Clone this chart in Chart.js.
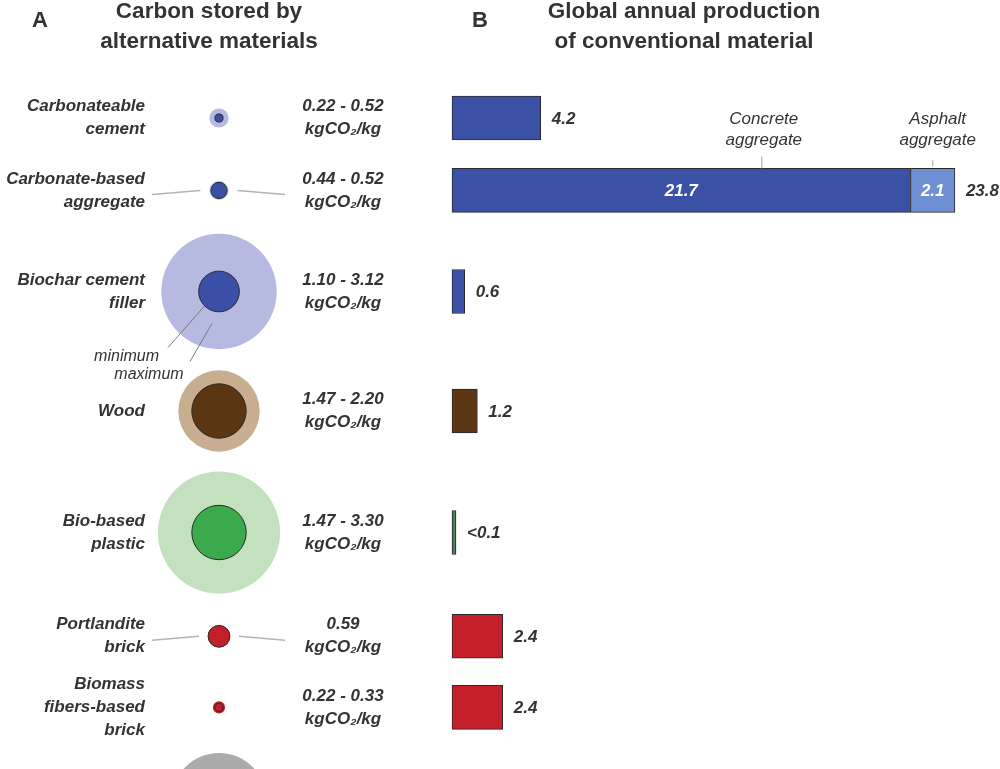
<!DOCTYPE html>
<html>
<head>
<meta charset="utf-8">
<script src="https://cdn.jsdelivr.net/npm/chart.js@4.4.1/dist/chart.umd.min.js"></script>
<style>
  html, body { margin: 0; padding: 0; background: #fff; }
  #wrap { position: relative; width: 1000px; height: 769px; overflow: hidden; }
  #chartA { position: absolute; left: 0; top: 0; }
  #chartB { position: absolute; left: 440px; top: 0; }
</style>
</head>
<body>
<div id="wrap">
  <canvas id="chartA" width="438" height="769"></canvas>
  <canvas id="chartB" width="560" height="769"></canvas>
</div>
<script>
// materials (panel A rows); the last one is cut off at the bottom of the figure
const materials = [
    ['Carbonateable', 'cement'],
    ['Carbonate-based', 'aggregate'],
    ['Biochar cement', 'filler'],
    ['Wood'],
    ['Bio-based', 'plastic'],
    ['Portlandite', 'brick'],
    ['Biomass', 'fibers-based', 'brick'],
    []
];
// carbon stored, kgCO2/kg
const storedMin = [0.22, 0.44, 1.10, 1.47, 1.47, 0.59, 0.22, 1.2];
const storedMax = [0.52, 0.52, 3.12, 2.20, 3.30, 0.59, 0.33, 2.55];
const storedLabels = ['0.22 - 0.52', '0.44 - 0.52', '1.10 - 3.12', '1.47 - 2.20', '1.47 - 3.30', '0.59', '0.22 - 0.33', ''];

// global annual production of the conventional material (panel B)
const production = [4.2, 21.7, 0.6, 1.2, 0.1, 2.4, 2.4];
const productionExtra = [0, 2.1, 0, 0, 0, 0, 0];
const productionLabels = ['4.2', '23.8', '0.6', '1.2', '<0.1', '2.4', '2.4'];
const segmentNames = [['Concrete', 'aggregate'], ['Asphalt', 'aggregate']];

// colours
const innerColors = ['#3a4fa6', '#3a4fa6', '#3a4fa6', '#5a3613', '#3aaa4c', '#c2202b', '#c2202b', '#7a7a7a'];
const outerColors = ['#b6b9e0', '#c9cbe9', '#b6b9e0', '#c9ad90', '#c4e1bf', '#c2202b', '#c2202b', '#ababab'];
const barColors = ['#3a51a6', '#3a51a6', '#3a51a6', '#5b3714', '#4d7a5a', '#c41f2b', '#c41f2b'];
const extraColor = '#6e8fd2';
const leaderRows = [false, true, false, false, false, true, false, false];

const H = 769;
const TEXT = '#333333';
const FONT = "'Liberation Sans', Arial, sans-serif";
const R_PER_UNIT = 18.5;      // bubble radius, px per kgCO2/kg
const PX_PER_GT = 21.13;      // bar length, px per unit
const ROW_TOP = 118, ROW_GAP = 61, ROW_GROW = 11;

// rows get more room when the circles are bigger
const rowPos = [0];
for (let i = 1; i < storedMax.length; i++) {
    rowPos.push(rowPos[i - 1] + ROW_GAP + ROW_GROW * (storedMax[i - 1] + storedMax[i]));
}

function lines(ctx, arr, x, y, lh) {
    const y0 = y - (arr.length - 1) * lh / 2;
    arr.forEach((t, k) => ctx.fillText(t, x, y0 + k * lh));
}

function title(ctx, letter, lx, titleLines, tx) {
    ctx.fillStyle = TEXT;
    ctx.textBaseline = 'middle';
    ctx.textAlign = 'center';
    ctx.font = `bold 22px ${FONT}`;
    ctx.fillText(letter, lx, 21);
    ctx.font = `bold 22.5px ${FONT}`;
    lines(ctx, titleLines, tx, 27, 30);
}

const labelsA = {
    id: 'labelsA',
    afterDatasetsDraw(chart) {
        const ctx = chart.ctx;
        const inner = chart.getDatasetMeta(0).data;
        ctx.save();
        title(ctx, 'A', 40, ['Carbon stored by', 'alternative materials'], 209);

        materials.forEach((name, i) => {
            if (!name.length) return;
            const cx = inner[i].x, cy = inner[i].y;
            const rMax = storedMax[i] * R_PER_UNIT;
            ctx.fillStyle = TEXT;
            ctx.font = `italic bold 17px ${FONT}`;
            ctx.textBaseline = 'middle';
            ctx.textAlign = 'right';
            lines(ctx, name, cx - 74, cy, 23);
            ctx.textAlign = 'center';
            lines(ctx, [storedLabels[i], 'kgCO\u2082/kg'], cx + 124, cy, 23);

            if (leaderRows[i]) {
                ctx.strokeStyle = '#b4b4b4';
                ctx.lineWidth = 1.5;
                ctx.beginPath();
                ctx.moveTo(cx - 67, cy + 4); ctx.lineTo(cx - rMax - 9, cy);
                ctx.moveTo(cx + rMax + 9, cy); ctx.lineTo(cx + 66, cy + 4);
                ctx.stroke();
            }
        });

        // minimum / maximum key on the biochar circle
        const k = 2;
        const cx = inner[k].x, cy = inner[k].y;
        const rMin = storedMin[k] * R_PER_UNIT;
        ctx.strokeStyle = '#7a7a7a';
        ctx.lineWidth = 1;
        ctx.beginPath();
        ctx.moveTo(cx - rMin * 0.7, cy + rMin * 0.7); ctx.lineTo(cx - 51, cy + 56);
        ctx.moveTo(cx - 7, cy + 32); ctx.lineTo(cx - 29, cy + 70);
        ctx.stroke();
        ctx.fillStyle = TEXT;
        ctx.font = `italic 16px ${FONT}`;
        ctx.textAlign = 'right';
        ctx.fillText('minimum', cx - 60, cy + 65);
        ctx.textAlign = 'center';
        ctx.fillText('maximum', cx - 70, cy + 83);
        ctx.restore();
    }
};

const labelsB = {
    id: 'labelsB',
    afterDatasetsDraw(chart) {
        const ctx = chart.ctx;
        const main = chart.getDatasetMeta(0).data;
        const extra = chart.getDatasetMeta(1).data;
        ctx.save();
        title(ctx, 'B', 40, ['Global annual production', 'of conventional material'], 244);

        ctx.font = `italic bold 17px ${FONT}`;
        ctx.textBaseline = 'middle';
        let e = 0;
        production.forEach((v, i) => {
            let end = main[i].x;
            if (productionExtra[i] > 0) {
                const seg = extra[e++];
                const top = seg.y - 22;
                // numbers inside the split bar
                ctx.fillStyle = '#ffffff';
                ctx.textAlign = 'center';
                ctx.fillText(String(v), (main[i].base + main[i].x) / 2, main[i].y + 1);
                ctx.fillText(String(productionExtra[i]), (seg.base + seg.x) / 2, seg.y + 1);
                // segment names with small ticks
                const ax1 = main[i].base + 0.68 * (main[i].x - main[i].base);
                const ax2 = (seg.base + seg.x) / 2;
                ctx.strokeStyle = '#a0a0a0';
                ctx.lineWidth = 1;
                ctx.beginPath();
                ctx.moveTo(ax1 - 2, top - 12); ctx.lineTo(ax1 - 2, top);
                ctx.moveTo(ax2, top - 8); ctx.lineTo(ax2, top - 2);
                ctx.stroke();
                ctx.fillStyle = TEXT;
                ctx.font = `italic 17px ${FONT}`;
                lines(ctx, segmentNames[0], ax1, top - 39, 21);
                lines(ctx, segmentNames[1], ax2 + 5, top - 39, 21);
                ctx.font = `italic bold 17px ${FONT}`;
                end = seg.x;
            }
            ctx.fillStyle = TEXT;
            ctx.textAlign = 'left';
            ctx.fillText(productionLabels[i], end + 11, main[i].y + 1);
        });
        ctx.restore();
    }
};

function rowScale(extra) {
    return Object.assign({
        display: false, type: 'linear', offset: false, bounds: 'data',
        min: -ROW_TOP, max: H - ROW_TOP, reverse: true
    }, extra);
}

new Chart(document.getElementById('chartA'), {
    type: 'bubble',
    data: {
        datasets: [
            {
                label: 'minimum',
                data: storedMin.map((v, i) => ({ x: 0, y: rowPos[i], r: v * R_PER_UNIT })),
                backgroundColor: innerColors,
                borderColor: '#2a2a2a',
                borderWidth: 1,
                order: 0,
                clip: false
            },
            {
                label: 'maximum',
                data: storedMax.map((v, i) => ({ x: 0, y: rowPos[i], r: v * R_PER_UNIT })),
                backgroundColor: outerColors,
                borderWidth: 0,
                order: 1,
                clip: false
            }
        ]
    },
    options: {
        responsive: false,
        animation: false,
        events: [],
        layout: { padding: 0, autoPadding: false },
        scales: {
            x: { display: false, type: 'linear', offset: false, min: -1, max: 1 },
            y: rowScale({})
        },
        plugins: { legend: { display: false }, tooltip: { enabled: false } }
    },
    plugins: [labelsA]
});

const extraRows = productionExtra.map((v, i) => ({ x: v, y: rowPos[i] })).filter(d => d.x > 0);

new Chart(document.getElementById('chartB'), {
    type: 'bar',
    data: {
        datasets: [
            {
                label: 'production',
                data: production.map((v, i) => ({ x: v, y: rowPos[i] })),
                backgroundColor: barColors,
                borderColor: '#2a2a2a',
                borderWidth: 1,
                borderSkipped: false,
                barThickness: 44,
                minBarLength: 4
            },
            {
                label: 'asphalt aggregate',
                data: extraRows,
                backgroundColor: extraColor,
                borderColor: '#2a2a2a',
                borderWidth: 1,
                borderSkipped: false,
                barThickness: 44
            }
        ]
    },
    options: {
        indexAxis: 'y',
        responsive: false,
        animation: false,
        events: [],
        layout: { padding: 0, autoPadding: false },
        scales: {
            x: { display: false, type: 'linear', stacked: true, offset: false, min: -12 / PX_PER_GT, max: (560 - 12) / PX_PER_GT },
            y: rowScale({ stacked: true })
        },
        plugins: { legend: { display: false }, tooltip: { enabled: false } }
    },
    plugins: [labelsB]
});
</script>
</body>
</html>
